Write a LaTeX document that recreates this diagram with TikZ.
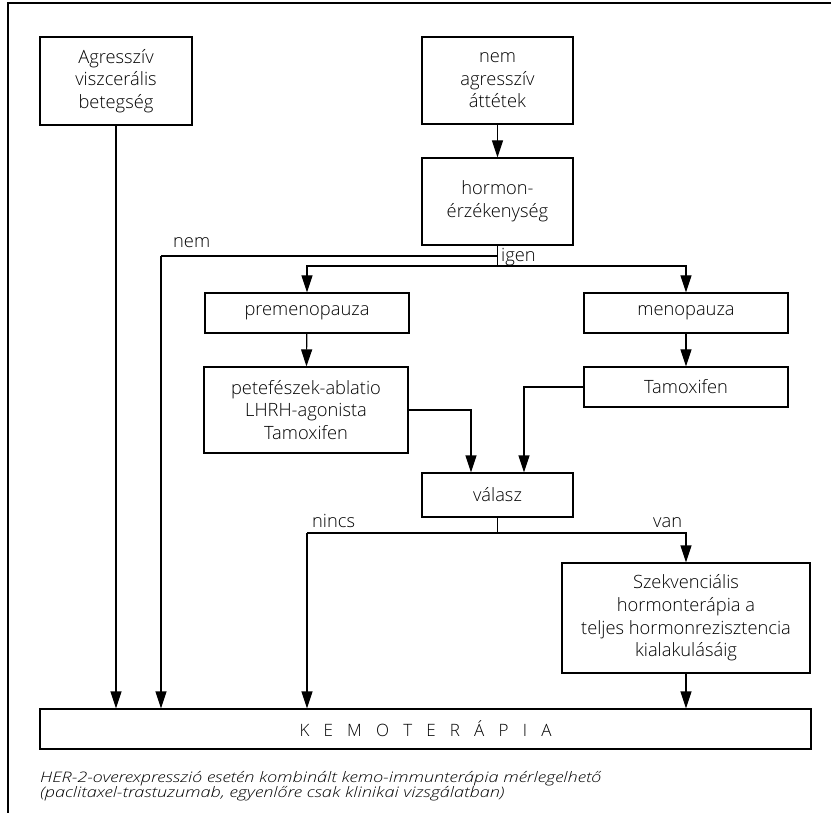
\documentclass[tikz,border=0pt]{standalone}
\usepackage{fontspec}
\setmainfont{Open Sans Light}
\usetikzlibrary{arrows.meta}
\newcommand\kemogap{\hspace{14.2pt}}
\begin{document}
\begin{tikzpicture}[x=1pt,y=-1pt,
  every node/.style={font=\fontsize{18.3}{22.6}\selectfont},
  flowbox/.style={draw, line width=1.2pt, inner sep=0pt, align=center},
  link/.style={line width=1.2pt},
  arr/.style={link, -{Triangle[length=17pt,width=11pt]}},
  tag/.style={inner sep=0pt, anchor=base west}]
\useasboundingbox (0,0) rectangle (831,821);
% frame: top rule and left rule
\draw[line width=1.2pt] (831,3) -- (8,3) -- (8,813);

% boxes
\node[flowbox, minimum width=152pt, minimum height=88pt] (agr) at (116,81)
  {Agresszív\\viszcerális\\betegség};
\node[flowbox, minimum width=151pt, minimum height=87pt] (nagr) at (497.5,80.5)
  {nem\\agresszív\\áttétek};
\node[flowbox, minimum width=151pt, minimum height=87pt] (horm) at (497.5,201.5)
  {hormon-\\érzékenység};
\node[flowbox, minimum width=204pt, minimum height=40pt] (pre) at (307,313)
  {premenopauza};
\node[flowbox, minimum width=204pt, minimum height=86pt] (pete) at (306,410)
  {petefészek-ablatio\\LHRH-agonista\\Tamoxifen};
\node[flowbox, minimum width=204pt, minimum height=40pt] (meno) at (686,313)
  {menopauza};
\node[flowbox, minimum width=204pt, minimum height=40pt] (tam) at (686,387)
  {Tamoxifen};
\node[flowbox, minimum width=151pt, minimum height=44pt] (valasz) at (497.5,495)
  {válasz};
\node[flowbox, minimum width=248pt, minimum height=110pt] (szek) at (686,618)
  {Szekvenciális\\hormonterápia a\\teljes hormonrezisztencia\\kialakulásáig};
\node[flowbox, minimum width=771pt, minimum height=40pt] (kemo) at (425.5,729)
  {\fontsize{17}{20}\selectfont K\kemogap E\kemogap M\kemogap O\kemogap T\kemogap E\kemogap R\kemogap Á\kemogap P\kemogap I\kemogap A};

% junction points
\coordinate (igensplit) at (497.5,266);
\coordinate (nemjoin) at (497.5,256);
\coordinate (nemcorner) at (161,256);
\coordinate (valsplit) at (497.5,533);
\coordinate (nincscorner) at (307,533);

% connectors
\draw[arr] (nagr) -- (horm);
\draw[link] (horm.south) -- (igensplit);
\draw[link] (nemjoin) -- (nemcorner);
\draw[arr] (nemcorner) -- (nemcorner |- kemo.north);
\draw[arr] (igensplit) -| (pre.north);
\draw[arr] (igensplit) -| (meno.north);
\draw[arr] (pre) -- (pete);
\draw[arr] (meno) -- (tam);
\draw[arr] (pete.east) -| ([xshift=-26.5pt]valasz.north);
\draw[arr] (tam.west) -| ([xshift=26.5pt]valasz.north);
\draw[link] (valasz.south) -- (valsplit);
\draw[arr] (valsplit) -| (szek.north);
\draw[link] (valsplit) -- (nincscorner);
\draw[arr] (nincscorner) -- (nincscorner |- kemo.north);
\draw[arr] (agr) -- (agr |- kemo.north);
\draw[arr] (szek) -- (szek |- kemo.north);

% branch labels
\node[tag] (lnem) at (173,248) {nem};
\node[tag] (ligen) at (501,262) {igen};
\node[tag] (lnincs) at (312,527) {nincs};
\node[tag] (lvan) at (653,527) {van};

% footnote
\node[tag, font=\fontsize{14.5}{13}\selectfont\itshape] (note) at (40,782)
  {\scalebox{1.25}[1]{\begin{tabular}[t]{@{}l@{}}HER-2-overexpresszió esetén kombinált kemo-immunterápia mérlegelhető\\
   (paclitaxel-trastuzumab, egyenlőre csak klinikai vizsgálatban)\end{tabular}}};
\end{tikzpicture}
\end{document}
